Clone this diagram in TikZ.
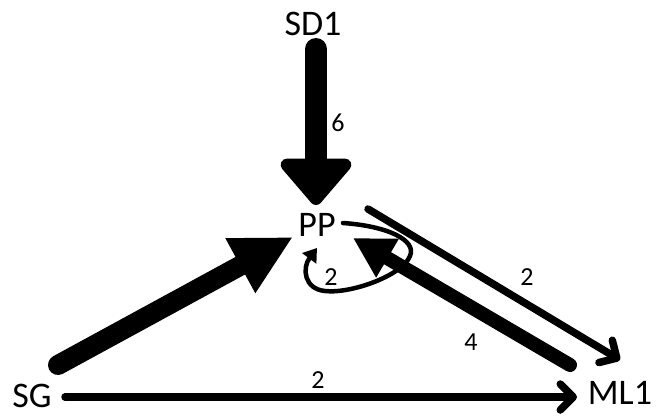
\documentclass[tikz,border=0pt]{standalone}
\usepackage{fontspec}
\setmainfont{Carlito}
\usetikzlibrary{arrows.meta,calc}
\begin{document}
\begin{tikzpicture}[x=1pt,y=1pt,
  big/.style={font=\fontsize{36}{40}\selectfont, inner sep=0pt},
  lbl/.style={font=\fontsize{26}{30}\selectfont, inner sep=0pt},
  conn/.style={draw=black, line cap=round}]
\useasboundingbox (0,0) rectangle (657,-418);
\node[big] (SD1) at (313,-24) {SD1};
\node[big] (PP) at (317,-225) {PP};
\node[big] (SG) at (32,-396) {SG};
\node[big] (ML1) at (620,-393) {ML1};
% connectors
\draw[conn, line width=22pt, -{Triangle[round,length=50pt,width=82pt]}]
  ([shift={(3,-25)}]SD1.center) -- ([shift={(-1,20)}]PP.center);
\draw[conn, line width=20pt, -{Triangle[length=60pt,width=58pt]}]
  ([shift={(26,31)}]SG.center) -- ([shift={(-24,-12)}]PP.center);
\draw[conn, line width=14pt, -{Triangle[length=40pt,width=42pt]}]
  ([shift={(-50,28)}]ML1.center) -- ([shift={(36,-13)}]PP.center);
\draw[conn, line width=7.5pt, -{Straight Barb[round,length=13pt,width=26pt]}]
  ([shift={(51,16)}]PP.center) -- ([shift={(0,33)}]ML1.center);
\draw[conn, line width=7.5pt, -{Straight Barb[round,length=13pt,width=26pt]}]
  ([shift={(33,-1)}]SG.center) -- ([shift={(-43,-4)}]ML1.center);
\draw[conn, line width=4.5pt, -{Triangle[length=13pt,width=17pt]}]
  ([shift={(26,2)}]PP.center) .. controls (387,-226) and (417,-240) .. (410,-256)
  .. controls (402,-276) and (350,-294) .. (325,-291)
  .. controls (304,-289) and (302,-268) .. ([shift={(0,-23)}]PP.center);
% labels
\node[lbl] (l1) at (338,-123) {6};
\node[lbl] (l2) at (140,-318) {6};
\node[lbl] (l3) at (331,-277) {2};
\node[lbl] (l4) at (527,-277) {2};
\node[lbl] (l5) at (471,-342) {4};
\node[lbl] (l6) at (318,-380) {2};
\end{tikzpicture}
\end{document}
